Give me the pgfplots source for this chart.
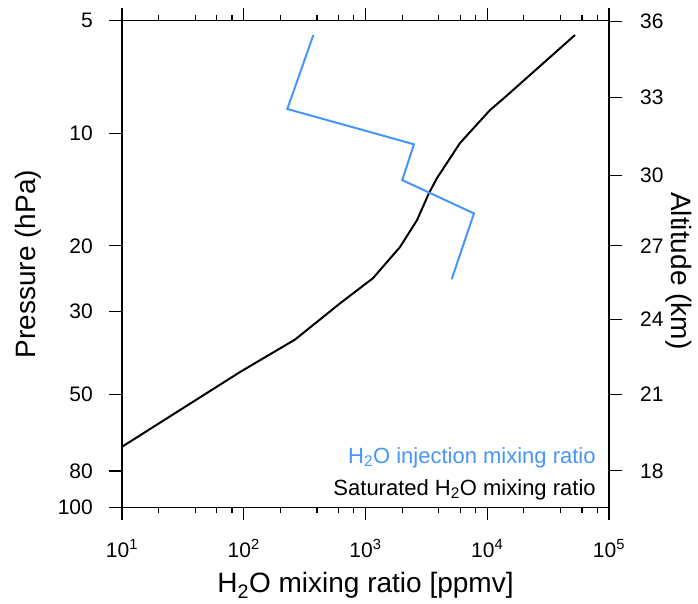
\documentclass[border=0pt]{standalone}
\usepackage{fontspec}
\setmainfont{Liberation Sans}
\usepackage{pgfplots}
\pgfplotsset{compat=1.18}
\definecolor{injblue}{RGB}{70,150,250}

\begin{document}
\begin{tikzpicture}
\useasboundingbox (-122pt,-95.7pt) rectangle (576pt,507.3pt);
\begin{axis}[
  at={(0,0)}, anchor=south west,
  scale only axis, width=487pt, height=486.6pt,
  xmode=log, ymode=log, y dir=reverse,
  xmin=10, xmax=100000, ymin=5, ymax=100,
  xtick={10,100,1000,10000,100000},
  xticklabels={10\textsuperscript{1},10\textsuperscript{2},10\textsuperscript{3},10\textsuperscript{4},10\textsuperscript{5}},
  minor xtick={20,40,60,80,200,400,600,800,2000,4000,6000,8000,20000,40000,60000,80000},
  ytick={5,10,20,30,50,80,100},
  yticklabels={5,10,20,30,50,80,100},
  xtick pos=both, ytick pos=left,
  tick align=outside,
  major tick length=13pt, minor tick length=6pt,
  every tick/.style={black, line width=1.2pt},
  axis line style={line width=1.2pt},
  tick label style={font=\fontsize{21}{24}\selectfont, inner sep=0pt},
  xticklabel style={anchor=base, yshift=-36.7pt},
  yticklabel style={anchor=east, xshift=-16pt},
  /pgf/number format/assume math mode=true,
  label style={font=\fontsize{28}{32}\selectfont},
  xlabel={H\textsubscript{2}O mixing ratio [ppmv]},
  ylabel={Pressure (hPa)},
  xlabel style={at={(axis description cs:0.5,-0.176)}, anchor=base},
  ylabel style={at={(axis description cs:-0.1766,0.5)}, anchor=base},
  clip=false,
]
\addplot[black, line width=2pt] coordinates {
  (52600,5.46) (13730,8.05) (10530,8.67) (5970,10.62) (3864,13.18)
  (3323,14.45) (2649,17.07) (1919,20.15) (1152,24.4) (617,28.5)
  (264,35.6) (93,43.5) (10,68.9)
};
\addplot[injblue, line width=2pt] coordinates {
  (373,5.46) (228,8.61) (2500,10.7) (2004,13.34) (7780,16.38) (5105,24.55)
};
\node[anchor=base east, text=injblue, font=\fontsize{22}{26}\selectfont, inner sep=0pt]
  at (axis description cs:0.973,0.091) {H\textsubscript{2}O injection mixing ratio};
\node[anchor=base east, text=black, font=\fontsize{22}{26}\selectfont, inner sep=0pt]
  at (axis description cs:0.973,0.0253) {Saturated H\textsubscript{2}O mixing ratio};
\end{axis}
\begin{axis}[
  at={(0,0)}, anchor=south west,
  scale only axis, width=487pt, height=486.6pt,
  ymode=log, y dir=reverse, ymin=5, ymax=100, xmin=0, xmax=1,
  axis x line=none, axis y line*=right,
  axis line style={-, line width=1.2pt},
  ytick={5.03,8.01,12.98,19.98,31.4,49.9,79.9},
  yticklabels={36,33,30,27,24,21,18},
  tick align=outside,
  major tick length=13pt,
  every tick/.style={black, line width=1.2pt},
  tick label style={font=\fontsize{21}{24}\selectfont, inner sep=0pt},
  yticklabel style={anchor=west, xshift=18pt},
  /pgf/number format/assume math mode=true,
  label style={font=\fontsize{28}{32}\selectfont},
  ylabel={Altitude (km)},
  ylabel style={at={(axis description cs:1.129,0.486)}, anchor=base, rotate=180},
]
\addplot[draw=none] coordinates {(0.5,10)};
\end{axis}
\end{tikzpicture}
\end{document}
